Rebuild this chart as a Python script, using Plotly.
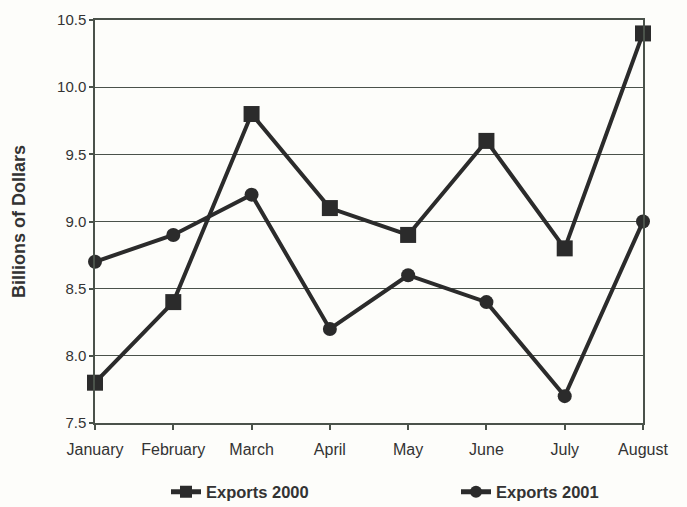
import plotly.graph_objects as go

months = ["January", "February", "March", "April", "May", "June", "July", "August"]
exports_2000 = [7.8, 8.4, 9.8, 9.1, 8.9, 9.6, 8.8, 10.4]
exports_2001 = [8.7, 8.9, 9.2, 8.2, 8.6, 8.4, 7.7, 9.0]
y_ticks = [7.5, 8.0, 8.5, 9.0, 9.5, 10.0, 10.5]
y_tick_labels = ["7.5", "8.0", "8.5", "9.0", "9.5", "10.0", "10.5"]

line_col = "#2b2b2b"
grid_col = "#4a524a"
font_fam = "Liberation Sans, Arial, sans-serif"

fig = go.Figure()
fig.add_trace(go.Scatter(
    x=months, y=exports_2000, name="Exports 2000", mode="lines+markers",
    line=dict(color=line_col, width=4),
    marker=dict(symbol="square", size=16, color=line_col),
    legend="legend", cliponaxis=False,
))
fig.add_trace(go.Scatter(
    x=months, y=exports_2001, name="Exports 2001", mode="lines+markers",
    line=dict(color=line_col, width=4),
    marker=dict(symbol="circle", size=14, color=line_col),
    legend="legend2", cliponaxis=False,
))

leg_common = dict(
    orientation="h", yanchor="middle", xanchor="left",
    xref="container", yref="container",
    font=dict(size=16.5, color="#333333", family=font_fam, weight="bold"),
    bgcolor="rgba(0,0,0,0)", itemsizing="constant",
)

fig.update_layout(
    width=687, height=507,
    margin=dict(l=95, r=44, t=20, b=84),
    paper_bgcolor="#fdfdfa",
    plot_bgcolor="#fdfdfa",
    font=dict(family=font_fam, color="#333333", size=15),
    showlegend=True,
    legend=dict(x=166 / 687, y=1 - 492 / 507, **leg_common),
    legend2=dict(x=456 / 687, y=1 - 492 / 507, **leg_common),
    xaxis=dict(
        type="category", categoryorder="array", categoryarray=months,
        range=[0, 7], showgrid=False, showline=True, linecolor=grid_col, linewidth=1.5,
        ticks="outside", ticklen=5, tickcolor=grid_col, tickwidth=1.5,
        mirror=True, zeroline=False, tickfont=dict(size=16), ticklabelstandoff=6,
    ),
    yaxis=dict(
        range=[7.5, 10.5], tickvals=y_ticks, ticktext=y_tick_labels,
        showgrid=True, gridcolor=grid_col, gridwidth=1.2,
        showline=True, linecolor=grid_col, linewidth=1.5, mirror=True,
        ticks="outside", ticklen=4, tickcolor=grid_col, tickwidth=1.5,
        zeroline=False, tickfont=dict(size=15),
        title=dict(text="Billions of Dollars", font=dict(size=18, weight="bold", color="#333333"), standoff=27),
    ),
)

fig.write_html("out.html", config={"displayModeBar": False},
               post_script="document.body.style.margin='0';")
